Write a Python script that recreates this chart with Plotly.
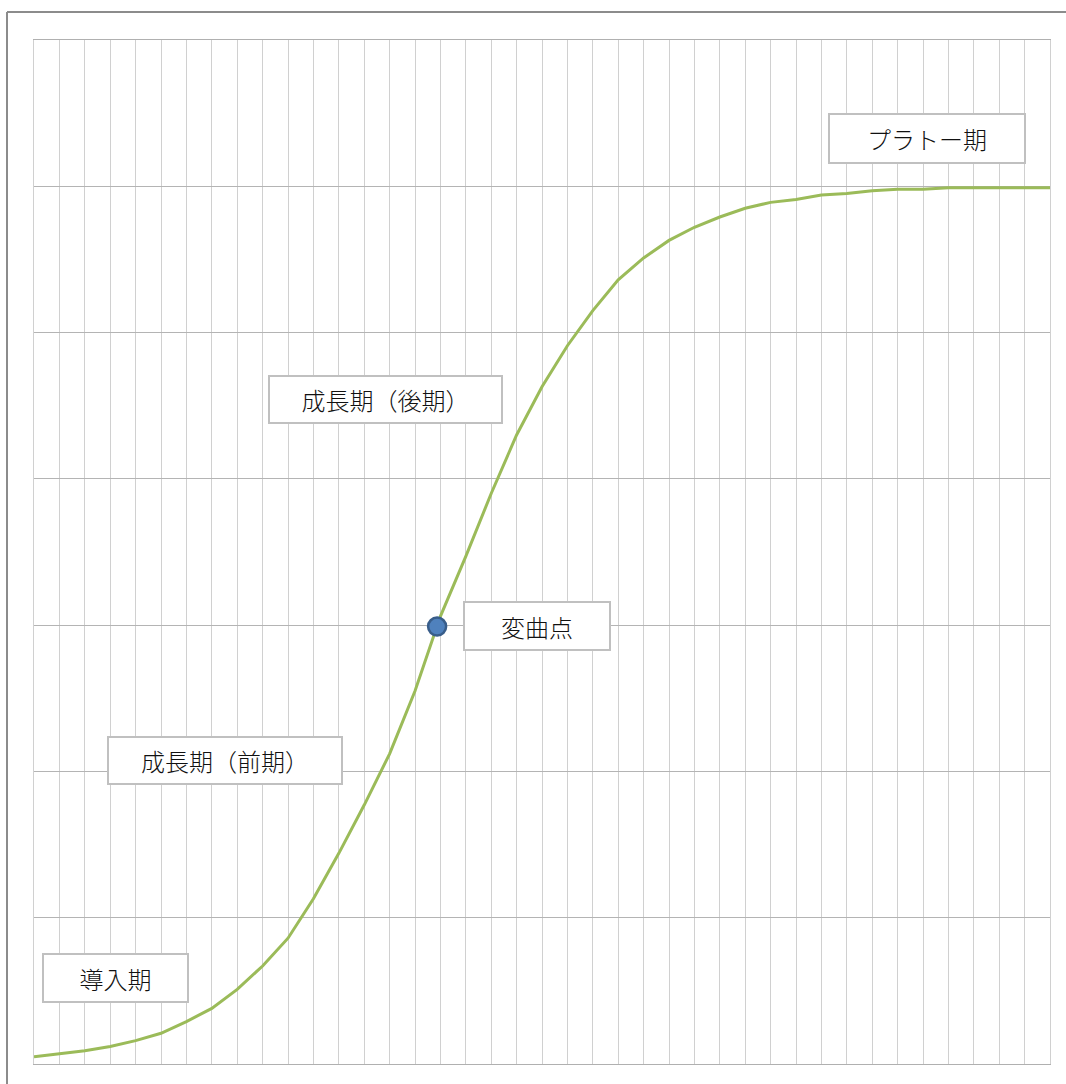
import plotly.graph_objects as go

# Product life-cycle S-curve (one value per period)
periods = list(range(41))
adoption = [0.05, 0.07, 0.09, 0.12, 0.16, 0.21, 0.29, 0.38, 0.51, 0.67,
            0.86, 1.13, 1.44, 1.77, 2.12, 2.55, 3.06, 3.47, 3.90, 4.30,
            4.63, 4.91, 5.15, 5.36, 5.51, 5.63, 5.72, 5.79, 5.85, 5.89,
            5.91, 5.94, 5.95, 5.97, 5.98, 5.98, 5.99, 5.99, 5.99, 5.99,
            5.99]

# Inflection point
inflection_x = [15.87]
inflection_y = [2.99]

# Stage labels
stage_labels = ["導入期", "成長期（前期）", "変曲点", "成長期（後期）", "プラトー期"]

W, H = 1066, 1084
ML, MR, MT, MB = 34, 16, 40, 20
PW, PH = W - ML - MR, H - MT - MB


def px_to_paper(px, py):
    return (px - ML) / PW, (H - MB - py) / PH


# label boxes: centre and size in pixels
label_boxes = [
    (115.5, 978, 147, 50),
    (225, 760.5, 236, 49),
    (537, 626, 148, 50),
    (385.5, 399.5, 235, 49),
    (927, 138.5, 198, 51),
]

fig = go.Figure()

fig.add_trace(go.Scatter(
    x=periods, y=adoption, mode="lines",
    line=dict(color="#9bbb59", width=3),
    hoverinfo="skip", showlegend=False,
))

fig.add_trace(go.Scatter(
    x=inflection_x, y=inflection_y, mode="markers",
    marker=dict(size=18, color="#4f81bd", line=dict(color="#385d8a", width=2.5)),
    showlegend=False, cliponaxis=False,
))

annotations = []
for text, (cx, cy, bw, bh) in zip(stage_labels, label_boxes):
    ax, ay = px_to_paper(cx, cy)
    annotations.append(dict(
        text=text, x=ax, y=ay, xref="paper", yref="paper",
        xanchor="center", yanchor="middle", showarrow=False,
        width=bw - 4, height=bh - 4, align="center", valign="middle",
        bgcolor="white", bordercolor="#c0c0c0", borderwidth=2, borderpad=0,
        font=dict(family="Noto Sans CJK JP", size=24, color="#111111",
                  weight=300),
    ))

# outer chart frame (left and top edges visible)
fx, fy = px_to_paper(7, 12)
shapes = [
    dict(type="line", xref="paper", yref="paper", x0=fx, x1=fx, y0=fy, y1=-0.1,
         line=dict(color="#8c8c8c", width=2)),
    dict(type="line", xref="paper", yref="paper", x0=fx, x1=1.1, y0=fy, y1=fy,
         line=dict(color="#8c8c8c", width=2)),
]

fig.update_layout(
    width=W, height=H,
    margin=dict(l=ML, r=MR, t=MT, b=MB, pad=0),
    paper_bgcolor="white", plot_bgcolor="white",
    annotations=annotations, shapes=shapes,
    xaxis=dict(range=[0, 40], dtick=1, tick0=0, showgrid=True,
               gridcolor="#d0d0d0", gridwidth=1, zeroline=False,
               showticklabels=False, ticks="",
               showline=True, mirror=True, linecolor="#b0b0b0", linewidth=1),
    yaxis=dict(range=[0, 7], dtick=1, tick0=0, showgrid=True,
               gridcolor="#b4b4b4", gridwidth=1, zeroline=False,
               showticklabels=False, ticks="",
               showline=True, mirror=True, linecolor="#d0d0d0", linewidth=1),
)

fig.write_html("out.html")
